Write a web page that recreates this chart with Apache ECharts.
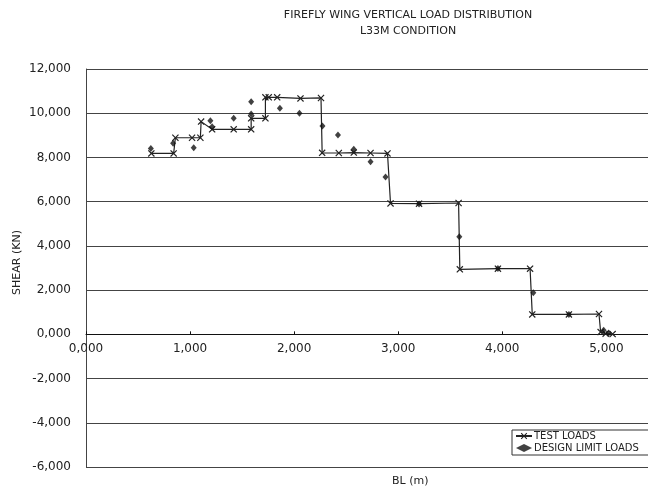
<!DOCTYPE html>
<html><head><meta charset="utf-8">
<script src="https://cdn.jsdelivr.net/npm/echarts@6/dist/echarts.min.js"></script>
<style>html,body{margin:0;padding:0;background:#fff}#c{width:648px;height:497px}</style>
</head><body><div id="c"></div>
<script>
// BL (m) and shear values (axis labels use comma decimals, e.g. 12,000)
const testX = [0.628, 0.842, 0.859, 1.019, 1.099, 1.106, 1.212, 1.419, 1.587, 1.587, 1.724, 1.724, 1.756, 1.837, 2.061, 2.258, 2.269, 2.429, 2.573, 2.734, 2.897, 2.926, 3.200, 3.580, 3.592, 3.958, 4.267, 4.288, 4.640, 4.929, 4.945, 4.993, 5.060];
const testY = [8.18, 8.18, 8.89, 8.89, 8.89, 9.62, 9.27, 9.27, 9.27, 9.77, 9.77, 10.72, 10.72, 10.72, 10.67, 10.69, 8.21, 8.20, 8.22, 8.20, 8.18, 5.92, 5.91, 5.94, 2.94, 2.97, 2.97, 0.90, 0.90, 0.92, 0.10, 0.03, 0.01];
const designX = [0.623, 0.837, 1.035, 1.195, 1.212, 1.419, 1.587, 1.587, 1.863, 2.051, 2.272, 2.421, 2.573, 2.734, 2.878, 3.200, 3.587, 3.958, 4.298, 4.640, 4.974, 5.022];
const designY = [8.40, 8.64, 8.44, 9.66, 9.39, 9.77, 10.52, 9.96, 10.22, 10.00, 9.42, 9.01, 8.37, 7.81, 7.11, 5.89, 4.41, 2.98, 1.88, 0.90, 0.19, 0.06];
const seriesNames = ['TEST LOADS', 'DESIGN LIMIT LOADS'];
const titleLines = ['FIREFLY WING VERTICAL LOAD DISTRIBUTION', 'L33M CONDITION'];
const xName = 'BL (m)';
const yName = 'SHEAR (KN)';
const xMin = 0, xMax = 5.4, yMin = -6, yMax = 12;

const FONT = 'DejaVu Sans';
const fmt = v => Math.abs(v - Math.round(v)) < 1e-9 ? v.toFixed(3).replace('.', ',') : '';
const xShape = 'path://M0,1.2L1.2,0L5,3.8L8.8,0L10,1.2L6.2,5L10,8.8L8.8,10L5,6.2L1.2,10L0,8.8L3.8,5Z';

const gridTop = 69, gridBottom = 30, H = 497;
const gridH = H - gridTop - gridBottom;
const zeroOffset = -gridH * (0 - yMin) / (yMax - yMin); // place x axis at y = 0

const chart = echarts.init(document.getElementById('c'), null, {renderer: 'canvas'});
chart.setOption({
  animation: false,
  backgroundColor: '#fff',
  title: {
    text: titleLines.join('\n'),
    left: 403, top: 2, textAlign: 'center',
    textStyle: {fontFamily: FONT, fontSize: 11, fontWeight: 'normal', color: '#222', lineHeight: 16}
  },
  grid: {left: 86, top: gridTop, bottom: gridBottom, right: 0, containLabel: false},
  legend: {
    orient: 'vertical', left: 512, top: 430,
    padding: [1, 12, 2, 3], itemGap: 2, itemWidth: 16, itemHeight: 8,
    borderColor: '#333', borderWidth: 1, backgroundColor: '#fff',
    textStyle: {fontFamily: FONT, fontSize: 10, color: '#222', padding: [0, 0, 0, -3]},
    data: seriesNames
  },
  xAxis: {
    type: 'value', min: xMin, max: xMax, interval: 1,
    position: 'bottom', offset: zeroOffset,
    axisLine: {onZero: false, lineStyle: {color: '#111', width: 1}},
    axisTick: {show: true, inside: true, length: 3, lineStyle: {color: '#111'}},
    axisLabel: {formatter: fmt, fontFamily: FONT, fontSize: 12, color: '#222', margin: 9, showMaxLabel: false},
    splitLine: {show: false}
  },
  yAxis: {
    type: 'value', min: yMin, max: yMax, interval: 2,
    axisLine: {show: true, lineStyle: {color: '#444', width: 1}},
    axisTick: {show: false},
    axisLabel: {formatter: fmt, fontFamily: FONT, fontSize: 12, color: '#222', margin: 15},
    splitLine: {show: true, lineStyle: {color: '#444', width: 1}}
  },
  graphic: [
    {type: 'text', left: 12, top: 230, rotation: Math.PI / 2,
      style: {text: yName, fontFamily: FONT, fontSize: 11, fill: '#222'}},
    {type: 'text', left: 392, top: 476,
      style: {text: xName, fontFamily: FONT, fontSize: 11, fill: '#222'}}
  ],
  series: [
    {
      name: seriesNames[0], type: 'line',
      data: testX.map((x, i) => [x, testY[i]]),
      symbol: xShape, symbolSize: 7, showAllSymbol: true,
      itemStyle: {color: '#222'},
      lineStyle: {color: '#222', width: 1.2},
      z: 3
    },
    {
      name: seriesNames[1], type: 'scatter',
      data: designX.map((x, i) => [x, designY[i]]),
      symbol: 'diamond', symbolSize: [6, 7],
      itemStyle: {color: '#111'},
      z: 4
    }
  ]
});
</script>
</body></html>
